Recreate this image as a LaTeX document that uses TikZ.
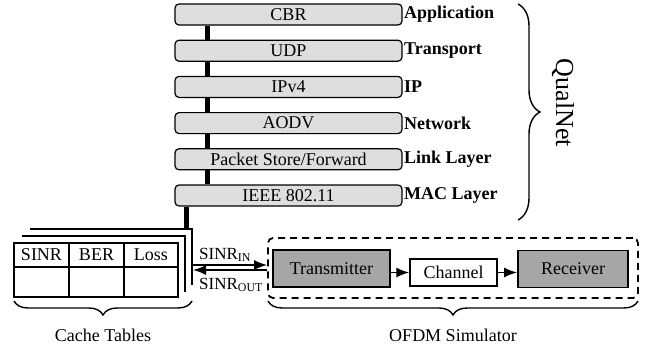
\documentclass[tikz,border=0pt]{standalone}
\usepackage{fontspec}
\setmainfont{Liberation Serif}
\usetikzlibrary{calc,arrows.meta,decorations.pathreplacing}

\begin{document}
\begin{tikzpicture}[x=1pt,y=-1pt,
	every node/.style={font=\fontsize{18}{20}\selectfont, inner sep=0pt},
	layer/.style={draw, line width=1.2pt, rounded corners=4pt, fill=black!13, minimum width=227pt, minimum height=21pt},
	lname/.style={anchor=west, font=\fontsize{18}{20}\selectfont\bfseries},
	bus/.style={line width=5pt},
	block/.style={draw, line width=1.8pt, fill=black!35, minimum height=37pt},
	sig/.style={line width=1.6pt, -{Latex[length=13pt,width=10pt]}},
	brc/.style={decorate, decoration={brace, amplitude=14pt}, line width=1.4pt}]
	\useasboundingbox (0,0) rectangle (646,351);
	% protocol stack
	\node[layer] (cbr) at (288.5,14.5) {CBR};
	\node[layer] (udp) at (288.5,50.7) {UDP};
	\node[layer] (ipv) at (288.5,86.9) {IPv4};
	\node[layer] (aodv) at (288.5,123.1) {AODV};
	\node[layer] (psf) at (288.5,159.3) {Packet Store/Forward};
	\node[layer] (mac) at (288.5,195.5) {IEEE 802.11};
	\node[lname] (app) at (404,14.5) {Application};
	\node[lname] (trn) at (404,50.7) {Transport};
	\node[lname] (ip) at (404,86.9) {IP};
	\node[lname] (net) at (404,123.1) {Network};
	\node[lname] (lnk) at (404,159.3) {Link Layer};
	\node[lname] (macl) at (404,195.5) {MAC Layer};
	\draw[bus] ([xshift=33pt]cbr.south west) -- ([xshift=33pt]udp.north west);
	\draw[bus] ([xshift=33pt]udp.south west) -- ([xshift=33pt]ipv.north west);
	\draw[bus] ([xshift=33pt]ipv.south west) -- ([xshift=33pt]aodv.north west);
	\draw[bus] ([xshift=33pt]aodv.south west) -- ([xshift=33pt]psf.north west);
	\draw[bus] ([xshift=33pt]psf.south west) -- ([xshift=33pt]mac.north west);
	\draw[brc, decoration={brace, amplitude=22pt}] (518,4) -- (518,220);
	\node[rotate=-90, font=\fontsize{26}{28}\selectfont] (qual) at (563,103) {QualNet};

	% cache tables
	\coordinate (top3) at (186,229);
	\draw[bus] (mac.south -| top3) -- (top3);
	\draw[line width=1.5pt] (30,229) -- (192,229) -- (192,285);
	\draw[line width=1.5pt] (22,236) -- (185,236) -- (185,292);
	\node[draw, line width=1.5pt, minimum width=164pt, minimum height=54pt] (cache) at (96,270) {};
	\draw[line width=1.5pt] (14,267) -- (178,267);
	\draw[line width=1.5pt] (69,243) -- (69,297);
	\draw[line width=1.5pt] (124,243) -- (124,297);
	\node (hsinr) at (41.5,255) {SINR};
	\node (hber) at (96.5,255) {BER};
	\node (hloss) at (151,255) {Loss};
	\draw[brc] (192,301) -- (14,301);
	\node (lcache) at (103,335) {Cache Tables};

	% OFDM simulator
	\node[draw, line width=1.8pt, dash pattern=on 7pt off 5pt, rounded corners=5pt, minimum width=370pt, minimum height=60pt] (ofdm) at (453,268) {};
	\node[block, minimum width=117pt] (tx) at (331.5,268.5) {Transmitter};
	\node[draw, line width=1.5pt, minimum width=87pt, minimum height=27pt] (ch) at (453.5,272.5) {Channel};
	\node[block, minimum width=110pt] (rx) at (573,269) {Receiver};
	\draw[sig] (tx.east |- ch.west) -- (ch.west);
	\draw[sig] (ch.east) -- (ch.east -| rx.west);
	\draw[brc] (638,301) -- (268,301);
	\node (lofdm) at (453,335) {OFDM Simulator};

	% SINR exchange
	\coordinate (sina) at (193,265);
	\coordinate (souta) at (193,270);
	\draw[sig] (sina) -- (sina -| ofdm.west);
	\draw[sig] (souta -| ofdm.west) -- (souta);
	\node[anchor=west, font=\fontsize{17}{19}\selectfont] (lin) at (199,255) {SINR\textsubscript{IN}};
	\node[anchor=west, font=\fontsize{17}{19}\selectfont] (lout) at (199,285) {SINR\textsubscript{OUT}};
\end{tikzpicture}
\end{document}
